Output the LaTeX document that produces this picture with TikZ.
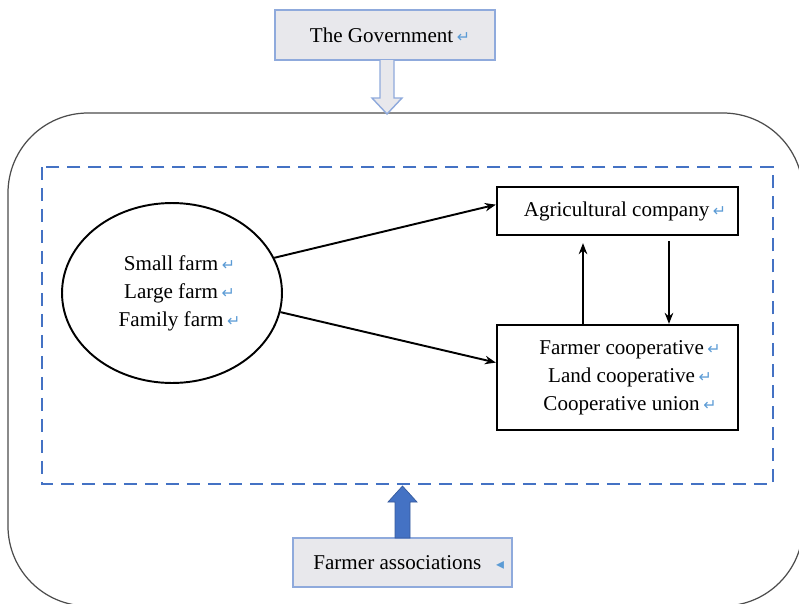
\documentclass[tikz,border=0pt]{standalone}
\usepackage{fontspec}
\setmainfont{Liberation Serif}
\newfontfamily\symfont{DejaVu Sans}
\usetikzlibrary{shapes.geometric,arrows.meta}
\definecolor{dashblue}{HTML}{4472C4}
\definecolor{retblue}{HTML}{5B9BD5}
\definecolor{boxgray}{HTML}{E8E8EC}
\definecolor{boxedge}{HTML}{8FAADC}
\newcommand{\retmark}{\,{\symfont\color{retblue}\small ↵}}

\begin{document}
\begin{tikzpicture}[x=0.02cm,y=-0.02cm,
    txt/.style={font=\fontsize{12}{16}\selectfont,align=center,inner sep=0pt},
    actor/.style={txt,draw,line width=1.3pt,minimum width=4.82cm},
    outside/.style={txt,draw=boxedge,fill=boxgray,line width=0.8pt},
    link/.style={-{Stealth[length=0.22cm,width=0.17cm]},line width=1.1pt}]
  \useasboundingbox (0,0) rectangle (799,603);
  % outer frame and dashed market area
  \draw[black!70,line width=0.7pt,rounded corners=1.6cm] (8,113) rectangle (803,606);
  \draw[dashblue,line width=1.2pt,dash pattern=on 0.26cm off 0.16cm] (42,167) rectangle (773,484);
  % actors
  \node[txt,draw,ellipse,line width=1.1pt,minimum width=4.4cm,minimum height=3.6cm] (farms) at (172,293)
    {\hspace*{0.3cm}Small farm\retmark\\\hspace*{0.3cm}Large farm\retmark\\\hspace*{0.3cm}Family farm\retmark};
  \node[actor,minimum height=0.96cm] (agri) at (617.5,211) {\hspace*{0.3cm}Agricultural company\retmark};
  \node[actor,minimum height=2.1cm] (coop) at (617.5,377.5)
    {\hspace*{0.5cm}Farmer cooperative\retmark\\\hspace*{0.5cm}Land cooperative\retmark\\\hspace*{0.5cm}Cooperative union\retmark};
  \node[outside,minimum width=4.4cm,minimum height=1cm] (gov) at (385,35) {\hspace*{0.2cm}The Government\retmark};
  \node[outside,minimum width=4.38cm,minimum height=0.98cm] (assoc) at (402.5,562.5)
    {\hspace*{0.25cm}Farmer associations\hspace{0.7em}{\symfont\color{retblue}\small◂}};
  % connectors
  \draw[link] (farms.19) -- (agri.177);
  \draw[link] (farms.-10) -- (coop.173);
  \draw[link,shorten >=0.14cm] ([xshift=-0.69cm]coop.north) -- ([xshift=-0.69cm]agri.south);
  \draw[link,shorten <=0.1cm] ([xshift=1.03cm]agri.south) -- ([xshift=1.03cm]coop.north);
  % block arrows
  \draw[boxedge,fill=boxgray,line width=0.8pt] (380,60) -- (380,98) -- (372,98) -- (387,114)
    -- (402,98) -- (394,98) -- (394,60);
  \fill[dashblue,draw=dashblue!80!black,line width=0.4pt] (395,538) -- (395,502) -- (388,502)
    -- (402.5,486) -- (417,502) -- (410,502) -- (410,538) -- cycle;
\end{tikzpicture}
\end{document}
